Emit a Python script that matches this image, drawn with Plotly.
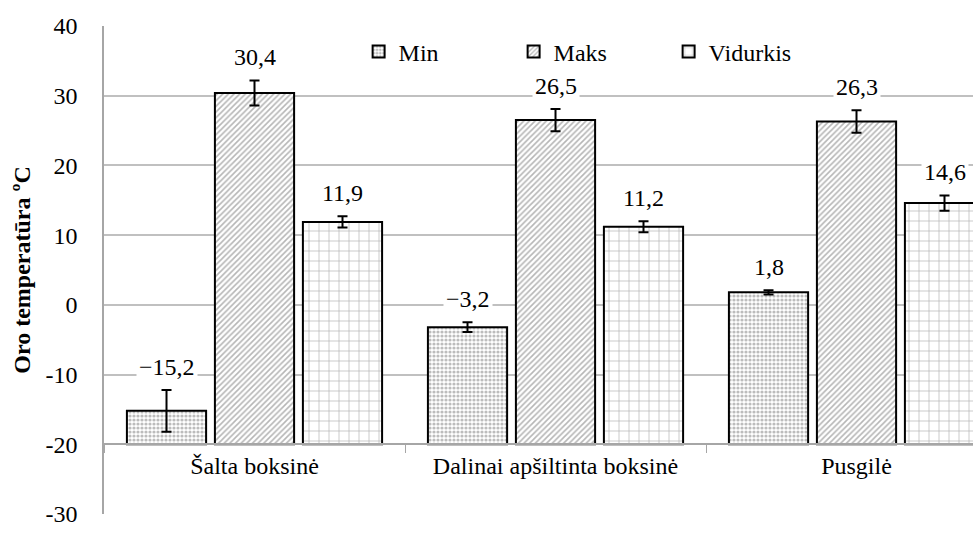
import plotly.graph_objects as go

# Data
categories = ["Šalta boksinė", "Dalinai apšiltinta boksinė", "Pusgilė"]
series_names = ["Min", "Maks", "Vidurkis"]
min_vals = [-15.2, -3.2, 1.8]
max_vals = [30.4, 26.5, 26.3]
avg_vals = [11.9, 11.2, 14.6]
min_err = [3.0, 0.7, 0.3]
max_err = [1.8, 1.6, 1.6]
avg_err = [0.8, 0.8, 1.1]
y_ticks = [-30, -20, -10, 0, 10, 20, 30, 40]

BASE = -20  # bars rise from the category axis line
FONT = "Times New Roman"
BARGAP = 0.123

series = [
    (series_names[0], min_vals, min_err, dict(shape=".", size=4, solidity=0.5, fgcolor="#7a7a7a")),
    (series_names[1], max_vals, max_err, dict(shape="/", size=4, solidity=0.4, fgcolor="#6e6e6e")),
    (series_names[2], avg_vals, avg_err, dict(shape="+", size=10, solidity=0.14, fgcolor="#6e6e6e")),
]


def fmt(v):
    s = f"{abs(v):.1f}".replace(".", ",")
    return ("\u2212" + s) if v < 0 else s


fig = go.Figure()
for name, vals, errs, pat in series:
    fig.add_trace(go.Bar(
        name=name,
        x=categories,
        y=[v - BASE for v in vals],
        base=BASE,
        marker=dict(
            color="white",
            line=dict(color="black", width=2),
            pattern=dict(bgcolor="white", **pat),
        ),
        error_y=dict(type="data", array=errs, color="black", thickness=2, width=5),
        hoverinfo="skip",
    ))

# Value labels above the error bars
slot = (1 - BARGAP) / len(series)
for si, (name, vals, errs, _) in enumerate(series):
    for ci, (v, e) in enumerate(zip(vals, errs)):
        fig.add_annotation(
            x=ci + (si - 1) * slot, y=v + e, xref="x", yref="y",
            text=fmt(v), showarrow=False, yanchor="bottom", yshift=7,
            bgcolor="white", borderpad=2,
            font=dict(family=FONT, size=24, color="#000000"),
        )

fig.update_layout(
    width=973, height=539,
    margin=dict(l=104, r=0, t=26, b=25),
    paper_bgcolor="white", plot_bgcolor="white",
    barmode="group", bargap=BARGAP, bargroupgap=0.1,
    font=dict(family=FONT, size=24, color="#000000"),
    showlegend=True,
    legend=dict(
        orientation="h", x=0.293, xanchor="left", y=0.947, yanchor="middle",
        font=dict(family=FONT, size=24), bgcolor="rgba(0,0,0,0)",
        itemwidth=30, entrywidth=110, traceorder="normal",
    ),
    xaxis=dict(
        range=[-0.5, 2.387], anchor="free", position=(BASE + 30) / 70,
        showline=True, linecolor="#a6a6a6", linewidth=2,
        ticks="outside", tickson="boundaries", ticklen=8, tickcolor="#a6a6a6",
        showgrid=False, tickfont=dict(family=FONT, size=24), fixedrange=True,
    ),
    yaxis=dict(
        range=[-30, 40], tickvals=y_ticks, ticktext=[str(t) for t in y_ticks],
        showgrid=True, gridcolor="#c0c0c0", gridwidth=1.5,
        showline=True, linecolor="#a6a6a6", linewidth=1.5,
        zeroline=False, ticks="", ticklabelstandoff=20,
        tickfont=dict(family=FONT, size=24),
        title=dict(text="<b>Oro temperatūra ºC</b>", font=dict(family=FONT, size=24), standoff=8),
        fixedrange=True,
    ),
)

fig.write_html("out.html")
